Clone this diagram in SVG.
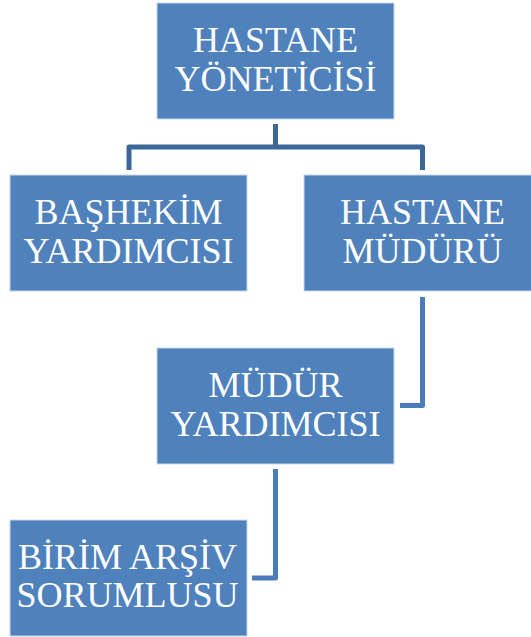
<svg xmlns="http://www.w3.org/2000/svg" width="531" height="637" viewBox="0 0 531 637">
<style>
.box{fill:#4F81BD;stroke:#C9D7EA;stroke-width:1}
.lbl{fill:#FFFFFF;font-family:'Liberation Serif','Times New Roman',serif;font-size:36px;text-anchor:middle}
.conn{fill:none;stroke-width:5;stroke-linejoin:round}
.c1{stroke:#3D6699}
.c2{stroke:#4A7CB9}
</style>
<rect width="531" height="637" fill="#FFFFFF"/>
<g id="connectors">
<path class="conn c1" d="M275.5 124 V147 M129 170 V147 H422.5 V170"/>
<path class="conn c2" d="M422.5 297 V405.5 H400"/>
<path class="conn c2" d="M275.5 469 V578 H252"/>
</g>
<g id="hastane-yoneticisi">
<rect class="box" x="157" y="3" width="237" height="116"/>
<text class="lbl" x="275.5" y="52">HASTANE</text>
<text class="lbl" x="275.5" y="90.5">YÖNETİCİSİ</text>
</g>
<g id="bashekim-yardimcisi">
<rect class="box" x="10" y="175" width="237" height="116"/>
<text class="lbl" x="128.5" y="224">BAŞHEKİM</text>
<text class="lbl" x="128.5" y="262.5">YARDIMCISI</text>
</g>
<g id="hastane-muduru">
<rect class="box" x="304" y="175" width="237" height="116"/>
<text class="lbl" x="422.5" y="224">HASTANE</text>
<text class="lbl" x="422.5" y="262.5">MÜDÜRÜ</text>
</g>
<g id="mudur-yardimcisi">
<rect class="box" x="157" y="348" width="237" height="116"/>
<text class="lbl" x="275.5" y="397">MÜDÜR</text>
<text class="lbl" x="275.5" y="435.5">YARDIMCISI</text>
</g>
<g id="birim-arsiv-sorumlusu">
<rect class="box" x="10" y="520" width="237" height="116"/>
<text class="lbl" x="127.5" y="568.5">BİRİM ARŞİV</text>
<text class="lbl" x="127.5" y="607">SORUMLUSU</text>
</g>
</svg>
